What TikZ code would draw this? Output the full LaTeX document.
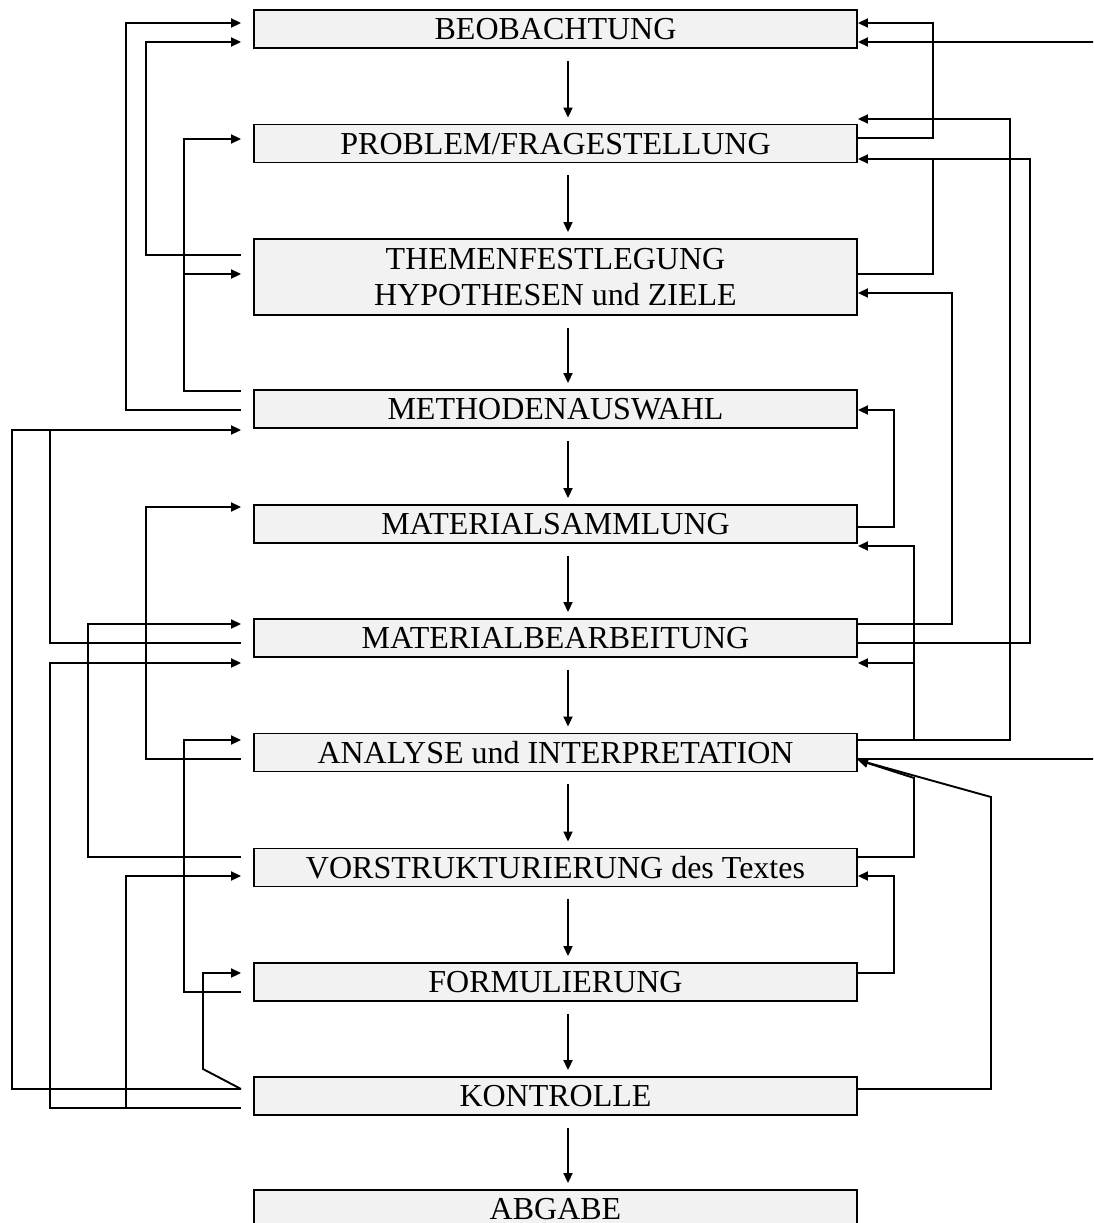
\documentclass[tikz,border=0pt]{standalone}
\usepackage{fontspec}
\setmainfont{Liberation Serif}
\usetikzlibrary{arrows.meta,calc}
\definecolor{boxgray}{HTML}{F2F2F2}
\begin{document}
\begin{tikzpicture}[x=1pt,y=-1pt,
  box/.style={draw,fill=boxgray,line width=1.9pt,minimum width=603pt,minimum height=38pt,inner sep=0pt,font=\fontsize{32}{36.5}\selectfont,text height=21.5pt,text depth=0pt},
  boxtwo/.style={draw,fill=boxgray,line width=1.9pt,minimum width=603pt,minimum height=76pt,inner sep=0pt,font=\fontsize{32}{36.5}\selectfont,align=center},
  con/.style={line width=1.9pt},
  arr/.style={con,-{Triangle[length=10pt,width=9pt]}}]
\useasboundingbox (0,0) rectangle (1093,1223);
\clip (0,0) rectangle (1093,1223);
\node[box] (b1) at (555.5,29) {BEOBACHTUNG};
\node[box] (b2) at (555.5,143.5) {PROBLEM/FRAGESTELLUNG};
\node[boxtwo] (b3) at (555.5,277) {THEMENFESTLEGUNG\\HYPOTHESEN und ZIELE};
\node[box] (b4) at (555.5,409) {METHODENAUSWAHL};
\node[box] (b5) at (555.5,524) {MATERIALSAMMLUNG};
\node[box] (b6) at (555.5,638) {MATERIALBEARBEITUNG};
\node[box] (b7) at (555.5,752.5) {ANALYSE und INTERPRETATION};
\node[box] (b8) at (555.5,867.5) {VORSTRUKTURIERUNG des Textes};
\node[box] (b9) at (555.5,982) {FORMULIERUNG};
\node[box] (b10) at (555.5,1096) {KONTROLLE};
\node[box] (b11) at (555.5,1209) {};
\node[inner sep=0pt,font=\fontsize{32}{36.5}\selectfont,text height=21pt,text depth=0pt] (b11t) at (555.5,1209) {ABGABE};
% main flow
\foreach \a/\b in {b1/b2,b2/b3,b3/b4,b4/b5,b5/b6,b6/b7,b7/b8,b8/b9,b9/b10,b10/b11}
  \draw[arr] ($(\a.south)+(12.5,12)$) -- ($(\b.north)+(12.5,-6)$);
% left side
\draw[arr] ($(b4.west)+(-12,1)$) -| (126,23) -- ($(b1.west)+(-12,-6)$);
\draw[arr] ($(b3.west)+(-12,-22)$) -| (146,42) -- ($(b1.west)+(-12,13)$);
\draw[arr] ($(b4.west)+(-12,-18)$) -| (184,139) -- ($(b2.west)+(-12,-4.5)$);
\draw[arr] (184,274) -- ($(b3.west)+(-12,-3)$);
\draw[arr] ($(b10.west)+(-12,-7)$) -| (12,430) -- ($(b4.west)+(-12,21)$);
\draw[con] ($(b6.west)+(-12,5)$) -| (50,430);
\draw[arr] ($(b10.west)+(-12,12)$) -| (50,663) -- ($(b6.west)+(-12,25)$);
\draw[arr] (126,1108) -- (126,876) -- ($(b8.west)+(-12,8.5)$);
\draw[arr] ($(b8.west)+(-12,-10.5)$) -| (88,624) -- ($(b6.west)+(-12,-14)$);
\draw[arr] ($(b7.west)+(-12,6.5)$) -| (146,507) -- ($(b5.west)+(-12,-17)$);
\draw[arr] ($(b9.west)+(-12,10)$) -| (184,740) -- ($(b7.west)+(-12,-12.5)$);
\draw[arr] ($(b10.west)+(-12,-7)$) -- (203,1069) -- (203,973) -- ($(b9.west)+(-12,-9)$);
% right side
\draw[arr] ($(b2.east)+(0,-5.5)$) -| (933,23) -- ($(b1.east)+(0,-6)$);
\draw[arr] ($(b7.east)+(0,6.5)$) -| (1110,42) -- ($(b1.east)+(0,13)$);
\draw[arr] ($(b7.east)+(0,-12.5)$) -| (1010,119) -- ($(b2.east)+(0,-24.5)$);
\draw[arr] ($(b6.east)+(0,5)$) -| (1030,159) -- ($(b2.east)+(0,15.5)$);
\draw[con] ($(b3.east)+(0,-3)$) -| (933,159);
\draw[arr] ($(b6.east)+(0,-14)$) -| (952,293) -- ($(b3.east)+(0,16)$);
\draw[arr] ($(b5.east)+(0,3)$) -| (894,410) -- ($(b4.east)+(0,1)$);
\draw[arr] (914,740) -- (914,546) -- ($(b5.east)+(0,22)$);
\draw[arr] (914,663) -- ($(b6.east)+(0,25)$);
\draw[arr] ($(b8.east)+(0,-10.5)$) -| (914,778) -- ($(b7.east)+(0,7.5)$);
\draw[arr] ($(b10.east)+(0,-7)$) -| (991,797) -- ($(b7.east)+(0,7.5)$);
\draw[arr] ($(b9.east)+(0,-9)$) -| (894,876) -- ($(b8.east)+(0,8.5)$);
\end{tikzpicture}
\end{document}
